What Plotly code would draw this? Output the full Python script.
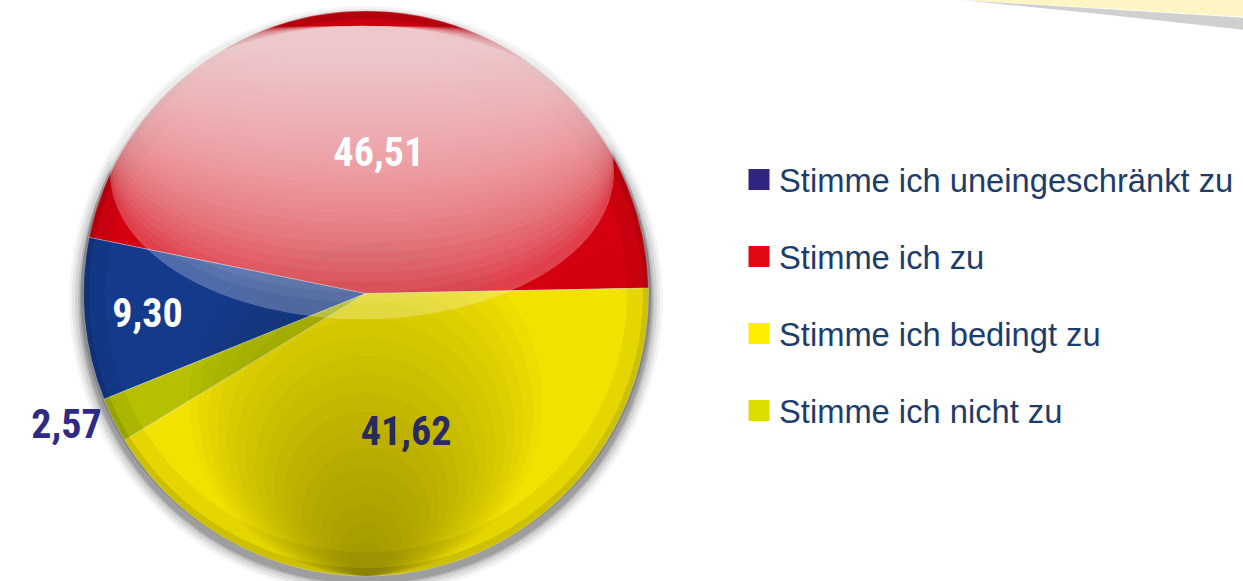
import plotly.graph_objects as go

# ---------------- data ----------------
categories = ["Stimme ich uneingeschränkt zu", "Stimme ich zu",
              "Stimme ich bedingt zu", "Stimme ich nicht zu"]
values = [9.30, 46.51, 41.62, 2.57]

slice_colors = ["#143a8c", "#d4000f", "#f2e200", "#b4c000"]
legend_colors = ["#2e2580", "#e30613", "#ffed00", "#dcdc00"]
label_colors = ["#ffffff", "#ffffff", "#2e2a85", "#2e2a85"]
text_positions = ["inside", "inside", "inside", "outside"]

# ---------------- layout geometry ----------------
W, H = 1243, 581
cx, cy, R = 366, 296, 285


def px(x):
    return x / W


def py(y):
    return 1 - y / H


NUM_FONT = "Roboto Condensed, Liberation Sans Narrow, Roboto, Arial, sans-serif"
TXT_FONT = "Liberation Sans, Arial, Helvetica, sans-serif"

fig = go.Figure()

fig.add_trace(go.Pie(
    labels=categories,
    values=values,
    sort=False,
    direction="clockwise",
    rotation=248,
    marker=dict(colors=slice_colors, line=dict(color="rgba(255,255,255,0.35)", width=1)),
    texttemplate="<b>%{value:.2f}</b>",
    textposition=text_positions,
    insidetextorientation="horizontal",
    textfont=dict(family=NUM_FONT, size=40, color=label_colors),
    domain=dict(x=[px(cx - R), px(cx + R)], y=[py(cy + R), py(cy - R)]),
    showlegend=False,
    hoverinfo="label+value",
))

# legend entries (one group per category for spacing)
for name, col in zip(categories, legend_colors):
    fig.add_trace(go.Scatter(
        x=[None], y=[None], mode="markers", name=name, legendgroup=name,
        marker=dict(symbol="square", size=16, color=col, line=dict(color=col, width=5)),
        hoverinfo="skip",
    ))

shapes = []

# drop shadow behind the pie
for d, op in [(12, 0.04), (9, 0.06), (6, 0.08), (3, 0.12), (1, 0.15)]:
    r = R + d
    sx, sy = cx, cy + 7
    shapes.append(dict(type="circle", xref="paper", yref="paper", layer="below",
                       x0=px(sx - r), x1=px(sx + r), y0=py(sy + r), y1=py(sy - r),
                       fillcolor=f"rgba(0,0,0,{op})", line=dict(width=0)))

# darker bottom shading (many faint circles tangent to the bottom of the pie)
n_sh = 18
for i in range(n_sh):
    f = 0.62 - i * (0.56 / (n_sh - 1))
    r = R * f
    ccy = cy + R - r
    shapes.append(dict(type="circle", xref="paper", yref="paper", layer="above",
                       x0=px(cx - r), x1=px(cx + r), y0=py(ccy + r), y1=py(ccy - r),
                       fillcolor="rgba(50,35,0,0.022)", line=dict(width=0)))

# rim darkening
for inset, w, op in [(12, 24, 0.05), (4, 8, 0.10)]:
    shapes.append(dict(type="circle", xref="paper", yref="paper", layer="above",
                       x0=px(cx - R + inset), x1=px(cx + R - inset),
                       y0=py(cy + R - inset), y1=py(cy - R + inset),
                       fillcolor="rgba(0,0,0,0)", line=dict(color=f"rgba(0,0,0,{op})", width=w)))

# glossy highlight (stacked translucent ellipses)
gx0, gx1, gtop = 110, 614, 26
gloss = [(322, 0.25)] + [(305 - i * 10, 0.05) for i in range(26)]
for bottom, op in gloss:
    shapes.append(dict(type="circle", xref="paper", yref="paper", layer="above",
                       x0=px(gx0), x1=px(gx1), y0=py(bottom), y1=py(gtop),
                       fillcolor=f"rgba(255,255,255,{op})", line=dict(width=0)))

# cream paper corner with shadow (top right)
shapes.append(dict(type="path", xref="paper", yref="paper", layer="below",
                   path=f"M {px(960)} {py(0)} L {px(1243)} {py(18)} L {px(1243)} {py(30)} L {px(1100)} {py(14)} Z",
                   fillcolor="rgba(120,120,120,0.35)", line=dict(width=0)))
shapes.append(dict(type="path", xref="paper", yref="paper", layer="below",
                   path=f"M {px(965)} {py(0)} L {px(1243)} {py(0)} L {px(1243)} {py(17)} Z",
                   fillcolor="#fdf5c4", line=dict(width=0)))

fig.update_layout(
    width=W, height=H,
    margin=dict(l=0, r=0, t=0, b=0),
    paper_bgcolor="white", plot_bgcolor="white",
    separators=",.",
    xaxis=dict(visible=False), yaxis=dict(visible=False),
    showlegend=True,
    legend=dict(x=px(739), y=py(153), xanchor="left", yanchor="top",
                font=dict(family=TXT_FONT, size=32.7, color="#1d3c6b"),
                tracegroupgap=31.5, bgcolor="rgba(0,0,0,0)", itemclick=False),
    uniformtext=dict(minsize=40, mode="show"),
    shapes=shapes,
)

fig.write_html("out.html", config={"displayModeBar": False},
               post_script="document.body.style.margin='0';document.body.style.overflow='hidden';")
